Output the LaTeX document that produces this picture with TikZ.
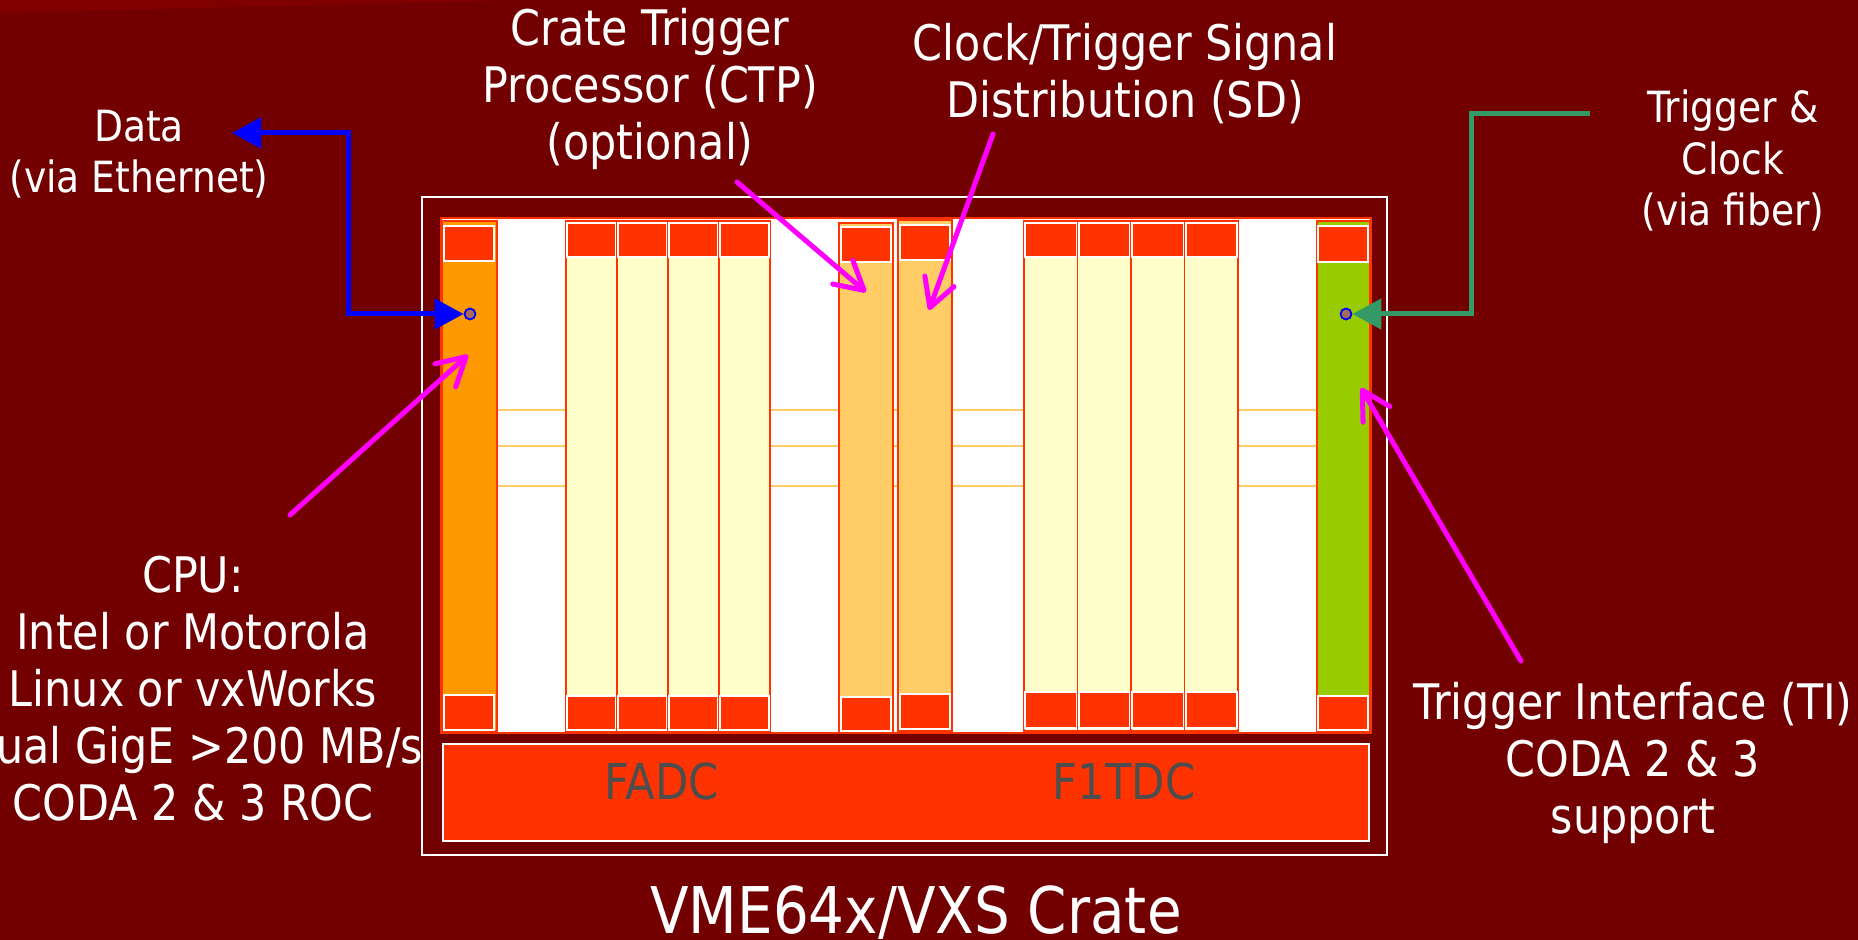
\documentclass[tikz,border=0pt]{standalone}
\usepackage{fontspec}
\setmainfont{DejaVu Sans}[FakeStretch=0.875]
\usetikzlibrary{arrows.meta,calc}
\definecolor{slidebg}{HTML}{720000}
\definecolor{slidehi}{HTML}{800000}
\definecolor{vmered}{HTML}{FF3300}
\definecolor{cpuorange}{HTML}{FF9900}
\definecolor{payload}{HTML}{FFFFCC}
\definecolor{swcard}{HTML}{FFCC66}
\definecolor{tigreen}{HTML}{99CC00}
\definecolor{fibergreen}{HTML}{339966}
\definecolor{ptrmagenta}{HTML}{FF00FF}
\definecolor{etherblue}{HTML}{0000FF}
\definecolor{plug}{HTML}{A86A5A}
\definecolor{boardgray}{HTML}{4D4D4D}

\begin{document}
\begin{tikzpicture}[x=.5pt,y=-.5pt,
  caption/.style={text=white,align=center,anchor=base,inner sep=0pt,font=\fontsize{24.5}{28.5}\selectfont},
  smallcap/.style={caption,font=\fontsize{21.5}{25.75}\selectfont},
  card/.style={draw=vmered,line width=.75pt},
  module/.style={draw=white,fill=vmered,line width=1pt},
  rail/.style={swcard,line width=1pt},
  port/.style={circle,draw=etherblue,fill=plug,line width=.9pt,minimum size=5.5pt,inner sep=0pt},
  callout/.style={ptrmagenta,line width=2.5pt,line cap=round,-{Straight Barb[length=14pt,width=15.5pt,round]}},
  bigtip/.tip={Triangle[length=14.5pt,width=15pt]}]
  \useasboundingbox (0,0) rectangle (1858,940);
  \fill[slidebg] (0,0) rectangle (1858,940);
  \fill[slidehi] (0,0) -- (520,0) -- (0,13) -- cycle;
  % crate and backplane
  \draw[white,line width=1pt] (422,197) rectangle (1387,855);
  \filldraw[draw=vmered,fill=white,line width=1pt] (441,218) rectangle (1371,733);
  \foreach \y in {410,446,486} \draw[rail] (441,\y) -- (1371,\y);
  \filldraw[draw=white,fill=vmered,line width=1pt] (443,744) rectangle (1369,841);
  % CPU
  \filldraw[card,fill=cpuorange] (442,221) rectangle (497,731);
  \filldraw[module] (444,226) rectangle (494,261);
  \filldraw[module] (444,695) rectangle (494,730);
  % FADC boards
  \foreach \x in {566,617,668,719}{
    \filldraw[card,fill=payload] (\x,221) rectangle ({\x+51},731);
    \filldraw[module] ({\x+1},223) rectangle ({\x+50},257);
    \filldraw[module] ({\x+1},696) rectangle ({\x+50},730);
  }
  % CTP and SD
  \filldraw[card,fill=swcard] (839,223) rectangle (893,731);
  \filldraw[module] (841,227) rectangle (891,262);
  \filldraw[module] (841,697) rectangle (891,731);
  \filldraw[card,fill=swcard] (898,220) rectangle (952,731);
  \filldraw[module] (900,225) rectangle (950,260);
  \filldraw[module] (900,694) rectangle (950,729);
  % F1TDC boards
  \foreach \x in {1024,1077.5,1131,1184.5}{
    \filldraw[card,fill=payload] (\x,221) rectangle ({\x+53.5},731);
    \filldraw[module] ({\x+1},223) rectangle ({\x+52.5},257);
    \filldraw[module] ({\x+1},692) rectangle ({\x+52.5},728);
  }
  % TI
  \filldraw[card,fill=tigreen] (1317,221) rectangle (1370,731);
  \filldraw[module] (1318,226) rectangle (1368,262);
  \filldraw[module] (1318,696) rectangle (1368,730);
  \node[font=\fontsize{24.75}{29}\selectfont,text=boardgray,anchor=base] (fadclabel) at (662,799) {FADC};
  \node[font=\fontsize{24.75}{29}\selectfont,text=boardgray,anchor=base] (f1tdclabel) at (1124,799) {F1TDC};
  \node[caption,font=\fontsize{32.2}{40}\selectfont] (cratelabel) at (916,933) {VME64x/VXS Crate};

  % labels (base = last line)
  \node[smallcap] (datalabel) at (139,193) {Data\\(via Ethernet)};
  \node[caption] (ctplabel) at (650,160) {Crate Trigger\\Processor (CTP)\\(optional)};
  \node[caption] (sdlabel) at (1125,118) {Clock/Trigger Signal\\Distribution (SD)};
  \node[smallcap] (fiberlabel) at (1733,226) {Trigger \&\\Clock\\(via fiber)};
  \node[caption] (cpulabel) at (193,820) {CPU:\\Intel or Motorola\\Linux or vxWorks\\Dual GigE >200 MB/s\\CODA 2 \& 3 ROC};
  \node[caption] (tilabel) at (1633,833) {Trigger Interface (TI)\\CODA 2 \& 3\\support};

  % links
  \node[port] (cpuport) at (470,314) {};
  \node[port] (tiport) at (1346,314) {};
  \coordinate (dataend) at (232,133);
  \coordinate (databend) at (348,133);
  \draw[etherblue,line width=2.5pt,bigtip-bigtip] (dataend) -- (databend) |- (cpuport.west);
  \coordinate (fiberend) at (1590,114);
  \coordinate (fiberbend) at (1471,114);
  \draw[fibergreen,line width=2.5pt,-bigtip] (fiberend) -- (fiberbend) |- (tiport.east);

  % pointers
  \coordinate (cputail) at (290,515); \coordinate (cpuhead) at (468,355);
  \coordinate (ctptail) at (737,182); \coordinate (ctphead) at (866,292);
  \coordinate (sdtail) at (993,134);  \coordinate (sdhead) at (929,310);
  \coordinate (titail) at (1521,661); \coordinate (tihead) at (1361,388);
  \draw[callout] (cputail) -- (cpuhead);
  \draw[callout] (ctptail) -- (ctphead);
  \draw[callout] (sdtail) -- (sdhead);
  \draw[callout] (titail) -- (tihead);
\end{tikzpicture}
\end{document}
